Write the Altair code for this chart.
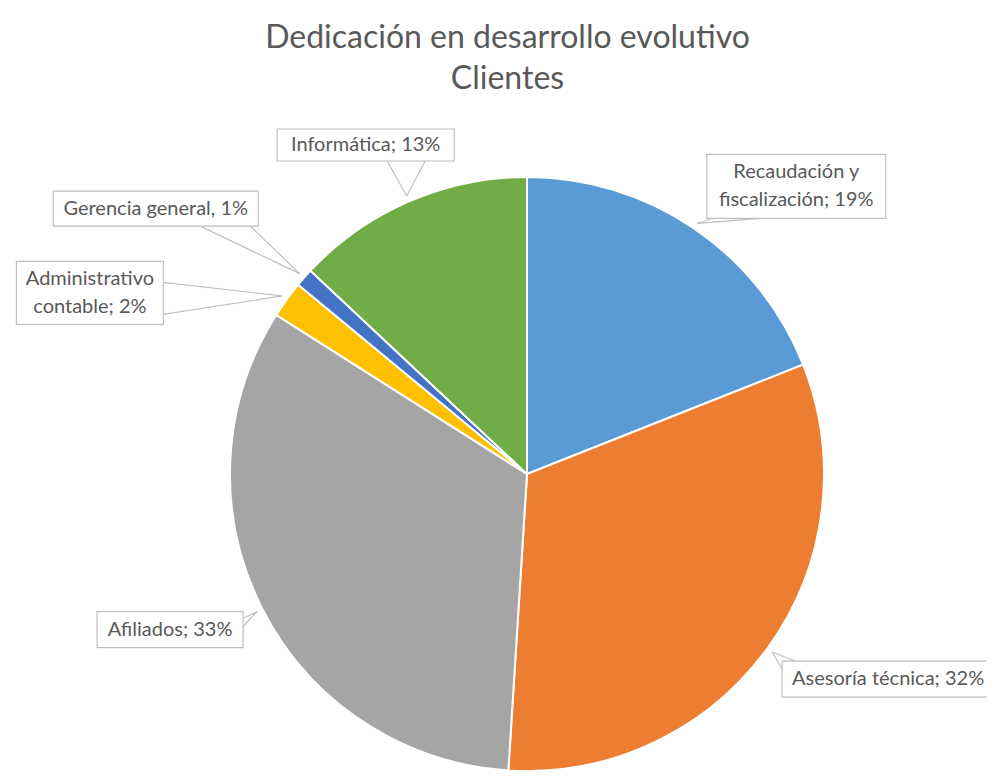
import math
import altair as alt
import pandas as pd

# ---- data ----
categories = ["Recaudación y fiscalización", "Asesoría técnica", "Afiliados",
              "Administrativo contable", "Gerencia general", "Informática"]
values = [19, 32, 33, 2, 1, 13]
separators = ["; ", "; ", "; ", "; ", ", ", "; "]
first_lines = ["Recaudación y", None, None, "Administrativo", None, None]
colors = ["#5B9BD5", "#ED7D31", "#A5A5A5", "#FFC000", "#4472C4", "#70AD47"]

# ---- layout (pixels) ----
W, H = 979, 662
CX, CY, R = 519, 366, 297
TIP_R = 1.02
LINE_H = 28
box_offset = [(99, -37), (119, 27), (-87, 18), (-192, -3), (-144, -65), (-41, -51)]
box_size = [(179, 64), (218, 36), (146, 36), (147, 63), (205, 35), (177, 32)]
wedge_base = [[(-84, 32), (-36, 32)], [(-109, -10), (-96, -18)], [(73, -11), (73, -3)],
              [(73.5, -10.5), (73.5, 21.5)], [(44.5, 17.5), (94.5, 17.5)],
              [(21.5, 16), (59.5, 16)]]
text_shift = [0, -3, 0, 0, 0, 0]

total = sum(values)
pie_df = pd.DataFrame({"category": categories, "value": values, "idx": range(len(values))})

rows_box, rows_lead, rows_text = [], [], []
cum = 0
for i, (cat, v) in enumerate(zip(categories, values)):
    mid = (cum + v / 2) / total * 2 * math.pi
    cum += v
    tx, ty = TIP_R * math.sin(mid), TIP_R * math.cos(mid)
    bx = tx + box_offset[i][0] / R
    by = ty - box_offset[i][1] / R
    w, h = box_size[i]
    rows_box.append({"x": bx - w / 2 / R, "x2": bx + w / 2 / R,
                     "y": by - h / 2 / R, "y2": by + h / 2 / R})
    for (ox, oy) in wedge_base[i]:
        rows_lead.append({"x": tx, "y": ty, "x2": bx + ox / R, "y2": by - oy / R})
    full = f"{cat}{separators[i]}{v}%"
    if first_lines[i]:
        rest = full[len(first_lines[i]):].strip()
        label = first_lines[i] + "\n" + rest
        nlines = 2
    else:
        label = full
        nlines = 1
    rows_text.append({"x": bx + text_shift[i] / R,
                      "y": by + (nlines - 1) * LINE_H / 2 / R,
                      "label": label})

box_df = pd.DataFrame(rows_box)
lead_df = pd.DataFrame(rows_lead)
text_df = pd.DataFrame(rows_text)

xs = alt.Scale(domain=[-CX / R, (W - CX) / R], nice=False, zero=False)
ys = alt.Scale(domain=[-(H - CY) / R, CY / R], nice=False, zero=False)

pie = alt.Chart(pie_df).mark_arc(outerRadius=R, stroke="white", strokeWidth=2).encode(
    theta=alt.Theta("value:Q", stack=True),
    color=alt.Color("category:N", scale=alt.Scale(domain=categories, range=colors), legend=None),
    order=alt.Order("idx:Q"),
    x=alt.value(CX),
    y=alt.value(CY),
)

leads = alt.Chart(lead_df).mark_rule(color="#BFBFBF", strokeWidth=1.2).encode(
    x=alt.X("x:Q", scale=xs, axis=None),
    y=alt.Y("y:Q", scale=ys, axis=None),
    x2="x2:Q",
    y2="y2:Q",
)

boxes = alt.Chart(box_df).mark_rect(fill="white", stroke="#BFBFBF", strokeWidth=1.2).encode(
    x=alt.X("x:Q", scale=xs, axis=None),
    x2="x2:Q",
    y=alt.Y("y:Q", scale=ys, axis=None),
    y2="y2:Q",
)

texts = alt.Chart(text_df).mark_text(
    font="Lato", fontSize=20, color="#595959", lineBreak="\n", lineHeight=LINE_H,
    align="center", baseline="middle",
).encode(
    x=alt.X("x:Q", scale=xs, axis=None),
    y=alt.Y("y:Q", scale=ys, axis=None),
    text="label:N",
)

chart = alt.layer(pie, leads, boxes, texts).properties(
    width=W,
    height=H,
    padding={"top": 100, "left": 0, "right": 0, "bottom": 0},
    autosize=alt.AutoSizeParams(type="none"),
    title=alt.Title(
        ["Dedicación en desarrollo evolutivo", "Clientes"],
        font="Lato", fontSize=32, fontWeight="normal", color="#595959",
        lineHeight=41, anchor="middle", dx=10, offset=12,
    ),
).configure(background="white", view=alt.ViewConfig(strokeWidth=0))

chart.save("out.html", embed_options={"renderer": "svg", "actions": False})
